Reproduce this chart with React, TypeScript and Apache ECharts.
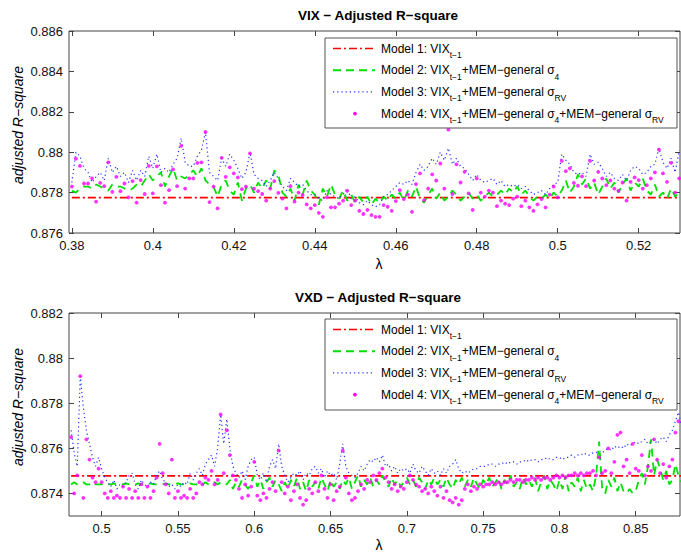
import React, { useEffect, useRef } from "react";
import * as echarts from "echarts";

const FONT = '"Liberation Sans", Arial, Helvetica, sans-serif';

// ---------- VIX panel (lambda 0.380 .. 0.530, step 0.001) ----------
const VIX_LAMBDA_START = 0.38;
const VIX_LAMBDA_STEP = 0.001;
const VIX_M1 = 0.87775;
const VIX_M2 = [
  0.8781, 0.878, 0.8782, 0.8783, 0.8783, 0.8782, 0.8784, 0.8783, 0.8782, 0.8781,
  0.8784, 0.8783, 0.8783, 0.8782, 0.8781, 0.8782, 0.8784, 0.8783, 0.8786, 0.8789,
  0.8786, 0.8788, 0.879, 0.8783, 0.8788, 0.8792, 0.8786, 0.8788, 0.8787, 0.8789,
  0.8791, 0.8788, 0.8792, 0.8786, 0.8784, 0.8783, 0.8778, 0.8784, 0.8786, 0.8781,
  0.8779, 0.8785, 0.8776, 0.8782, 0.8784, 0.878, 0.8785, 0.8782, 0.8786, 0.8782,
  0.8791, 0.8789, 0.878, 0.8778, 0.8782, 0.8776, 0.8784, 0.8779, 0.8786, 0.8781,
  0.8779, 0.8774, 0.8782, 0.8778, 0.8784, 0.8779, 0.8777, 0.8781, 0.8776, 0.8779,
  0.8775, 0.8778, 0.8775, 0.8778, 0.8774, 0.8777, 0.8775, 0.8778, 0.8776, 0.8779,
  0.8777, 0.878, 0.8776, 0.8781, 0.8778, 0.8783, 0.8777, 0.8775, 0.8779, 0.8782,
  0.8777, 0.878, 0.8776, 0.8778, 0.8781, 0.8779, 0.8776, 0.8778, 0.878, 0.8777,
  0.8779, 0.8776, 0.8778, 0.878, 0.8778, 0.8779, 0.8781, 0.8779, 0.8782, 0.878,
  0.8783, 0.8779, 0.8781, 0.8778, 0.8776, 0.8778, 0.8777, 0.8779, 0.8777, 0.878,
  0.8778, 0.8781, 0.8786, 0.878, 0.8783, 0.8789, 0.8784, 0.8787, 0.8782, 0.8785,
  0.8779, 0.8783, 0.8787, 0.8782, 0.8785, 0.878, 0.8784, 0.8787, 0.8781, 0.8785,
  0.8783, 0.8787, 0.8781, 0.8779, 0.8784, 0.8778, 0.878, 0.8777, 0.8782, 0.8778,
  0.878,
];
const VIX_M3 = [
  0.8785, 0.88, 0.8798, 0.8792, 0.879, 0.8785, 0.8788, 0.879, 0.8786, 0.8797,
  0.879, 0.8793, 0.8788, 0.879, 0.8785, 0.8791, 0.8786, 0.8791, 0.8788, 0.8798,
  0.8792, 0.8799, 0.879, 0.8792, 0.879, 0.8794, 0.8797, 0.8807, 0.8795, 0.8793,
  0.8793, 0.8798, 0.8801, 0.881, 0.879, 0.8788, 0.8786, 0.8797, 0.8793, 0.8799,
  0.8796, 0.8792, 0.8787, 0.879, 0.88, 0.8789, 0.8787, 0.8786, 0.8783, 0.8786,
  0.879, 0.8787, 0.8783, 0.8781, 0.8787, 0.8785, 0.8783, 0.8784, 0.8781, 0.8779,
  0.8779, 0.8777, 0.8776, 0.8781, 0.8779, 0.8778, 0.8777, 0.8779, 0.8782, 0.8777,
  0.8778, 0.8775, 0.8774, 0.8776, 0.8774, 0.8773, 0.8774, 0.8778, 0.8779, 0.8781,
  0.8783, 0.8785, 0.8784, 0.8786, 0.8784, 0.879, 0.8794, 0.8791, 0.8793, 0.8797,
  0.8794, 0.88, 0.8796, 0.8802, 0.8794, 0.8797, 0.8793, 0.8792, 0.8789, 0.8786,
  0.8789, 0.8786, 0.8785, 0.8786, 0.8787, 0.8784, 0.8786, 0.8783, 0.8784, 0.8783,
  0.8784, 0.8782, 0.8783, 0.8781, 0.8779, 0.878, 0.8781, 0.8779, 0.8782, 0.8784,
  0.8785, 0.8799, 0.8796, 0.8794, 0.879, 0.8789, 0.879, 0.8788, 0.8799, 0.8794,
  0.8795, 0.8792, 0.8788, 0.879, 0.8787, 0.8786, 0.8789, 0.8786, 0.8791, 0.8793,
  0.8792, 0.8789, 0.879, 0.8793, 0.8794, 0.8802, 0.8795, 0.8792, 0.8797, 0.879,
  0.8801,
];
const VIX_M4 = [
  0.8783, 0.87968, 0.87932, 0.87845, 0.87845, 0.8787, 0.87755, 0.87848, 0.87832, 0.8795,
  0.87804, 0.87878, 0.87807, 0.87845, 0.87776, 0.87857, 0.8775, 0.87862, 0.87793, 0.87932,
  0.87796, 0.8793, 0.87837, 0.8775, 0.87812, 0.87915, 0.87832, 0.88031, 0.8782, 0.8787,
  0.8787, 0.87947, 0.8795, 0.881, 0.87753, 0.8783, 0.87722, 0.87972, 0.87878, 0.87925,
  0.87895, 0.87875, 0.87817, 0.8783, 0.87994, 0.8782, 0.87807, 0.87793, 0.8776, 0.8782,
  0.87857, 0.87799, 0.8777, 0.87722, 0.87832, 0.87755, 0.878, 0.87788, 0.87742, 0.87722,
  0.87738, 0.877, 0.8768, 0.87776, 0.87727, 0.87727, 0.87745, 0.8776, 0.87809, 0.87738,
  0.8776, 0.8771, 0.87694, 0.87714, 0.87689, 0.8768, 0.8768, 0.87738, 0.8773, 0.8771,
  0.87758, 0.87812, 0.87768, 0.8779, 0.87705, 0.87842, 0.87895, 0.87763, 0.8782, 0.8789,
  0.8786, 0.87944, 0.8782, 0.88112, 0.87793, 0.8794, 0.8785, 0.87903, 0.87796, 0.87714,
  0.8787, 0.878, 0.8778, 0.8781, 0.878, 0.87733, 0.8776, 0.87745, 0.87738, 0.8777,
  0.8778, 0.87733, 0.8776, 0.87727, 0.8771, 0.87742, 0.87768, 0.87727, 0.8779, 0.8783,
  0.87776, 0.87957, 0.87906, 0.8792, 0.87848, 0.87834, 0.8788, 0.87832, 0.87957, 0.8786,
  0.87903, 0.8787, 0.87837, 0.8786, 0.8782, 0.87809, 0.8785, 0.8776, 0.87853, 0.87875,
  0.87862, 0.8782, 0.87837, 0.8787, 0.879, 0.88013, 0.87895, 0.87853, 0.87947, 0.878,
  0.8787,
];
const VIX_X_TICKS = [0.38, 0.4, 0.42, 0.44, 0.46, 0.48, 0.5, 0.52];
const VIX_Y_TICKS = [0.876, 0.878, 0.88, 0.882, 0.884, 0.886];

// ---------- VXD panel (lambda 0.480 .. 0.880, step 0.002) ----------
const VXD_LAMBDA_START = 0.48;
const VXD_LAMBDA_STEP = 0.002;
const VXD_M1 = 0.87478;
const VXD_M2 = [
  0.8744, 0.8745, 0.8744, 0.8744, 0.8745, 0.8744, 0.8744, 0.8745, 0.8744, 0.8744,
  0.8744, 0.87445, 0.8744, 0.8744, 0.87445, 0.8744, 0.8744, 0.8744, 0.87445, 0.8744,
  0.8744, 0.8744, 0.87445, 0.8744, 0.8744, 0.8744, 0.87445, 0.8744, 0.8744, 0.8744,
  0.8744, 0.87445, 0.8744, 0.8744, 0.8744, 0.87445, 0.8744, 0.8744, 0.8744, 0.87445,
  0.8744, 0.8744, 0.8745, 0.8744, 0.8745, 0.8744, 0.8745, 0.8745, 0.8744, 0.8745,
  0.8745, 0.8744, 0.8746, 0.8742, 0.8745, 0.8743, 0.8746, 0.8744, 0.8742, 0.8745,
  0.8748, 0.8743, 0.8746, 0.8742, 0.8745, 0.8747, 0.8743, 0.8746, 0.8744, 0.8741,
  0.8745, 0.8742, 0.8746, 0.8743, 0.8747, 0.8742, 0.8745, 0.8741, 0.8746, 0.8743,
  0.8745, 0.8742, 0.8747, 0.8744, 0.8741, 0.8746, 0.8743, 0.8745, 0.8742, 0.8746,
  0.8744, 0.8747, 0.8742, 0.8745, 0.8748, 0.8743, 0.8746, 0.8744, 0.8747, 0.8743,
  0.8746, 0.8744, 0.8748, 0.8745, 0.8743, 0.8747, 0.8744, 0.8746, 0.8743, 0.8745,
  0.8747, 0.8744, 0.8746, 0.8743, 0.8747, 0.8745, 0.8742, 0.8746, 0.8744, 0.8747,
  0.8744, 0.8746, 0.8743, 0.8747, 0.8744, 0.8742, 0.8746, 0.8744, 0.8747, 0.8743,
  0.8746, 0.8743, 0.8747, 0.8744, 0.8742, 0.8746, 0.8744, 0.8747, 0.8743, 0.8745,
  0.8747, 0.8742, 0.8746, 0.8744, 0.8748, 0.8743, 0.8745, 0.8742, 0.8747, 0.8744,
  0.8746, 0.8743, 0.8747, 0.8741, 0.8745, 0.8748, 0.8742, 0.8746, 0.8744, 0.8741,
  0.8746, 0.8742, 0.8748, 0.8741, 0.8745, 0.8743, 0.8747, 0.8741, 0.8746, 0.8742,
  0.8744, 0.8741, 0.8748, 0.8763, 0.8742, 0.874, 0.8746, 0.8743, 0.8747, 0.8741,
  0.8745, 0.8741, 0.874, 0.8742, 0.874, 0.8741, 0.8746, 0.8749, 0.8744, 0.8752,
  0.8764, 0.8748, 0.8755, 0.8751, 0.8746, 0.875, 0.8744, 0.8746, 0.8753, 0.8748,
  0.8745,
];
const VXD_M3 = [
  0.8768, 0.8758, 0.8752, 0.8792, 0.8778, 0.8768, 0.8762, 0.8756, 0.8752, 0.8756,
  0.8751, 0.8747, 0.8745, 0.8743, 0.8746, 0.8742, 0.8744, 0.8743, 0.8745, 0.8748,
  0.8749, 0.8744, 0.8742, 0.8746, 0.8744, 0.8743, 0.8745, 0.8744, 0.8748, 0.875,
  0.8746, 0.8745, 0.8743, 0.8744, 0.8742, 0.8744, 0.8743, 0.8745, 0.8744, 0.8749,
  0.8746, 0.8749, 0.8751, 0.8748, 0.8753, 0.8755, 0.8757, 0.8752, 0.876, 0.8775,
  0.8762, 0.8773, 0.876, 0.8752, 0.8749, 0.8747, 0.875, 0.8746, 0.8752, 0.8755,
  0.8756, 0.8748, 0.8746, 0.8749, 0.8745, 0.8752, 0.8755, 0.8751, 0.8762, 0.8752,
  0.8748, 0.8745, 0.8747, 0.8749, 0.8748, 0.875, 0.8746, 0.8749, 0.8748, 0.8751,
  0.8752, 0.8749, 0.8751, 0.8747, 0.875, 0.8748, 0.8749, 0.8746, 0.8753, 0.8762,
  0.8752, 0.8749, 0.8748, 0.8747, 0.8749, 0.8752, 0.875, 0.8753, 0.8755, 0.8754,
  0.8756, 0.8754, 0.8757, 0.8752, 0.8753, 0.875, 0.8752, 0.8749, 0.8751, 0.875,
  0.8751, 0.8749, 0.8753, 0.875, 0.8749, 0.8752, 0.875, 0.8748, 0.8751, 0.8749,
  0.875, 0.8748, 0.8751, 0.8749, 0.8752, 0.8753, 0.8755, 0.8751, 0.8749, 0.875,
  0.8749, 0.875, 0.8751, 0.8751, 0.8752, 0.8752, 0.8752, 0.8753, 0.8753, 0.8752,
  0.8753, 0.8753, 0.8754, 0.8753, 0.8754, 0.8754, 0.8753, 0.8754, 0.8754, 0.8755,
  0.8754, 0.8755, 0.8755, 0.8754, 0.8755, 0.8755, 0.8756, 0.8755, 0.8755, 0.8756,
  0.8756, 0.8755, 0.8756, 0.8756, 0.8757, 0.8756, 0.8757, 0.8757, 0.8758, 0.8757,
  0.8757, 0.8758, 0.8758, 0.8759, 0.8758, 0.8759, 0.876, 0.8759, 0.8761, 0.876,
  0.8761, 0.876, 0.8762, 0.8761, 0.8762, 0.8763, 0.8762, 0.8763, 0.8764, 0.8762,
  0.8763, 0.8764, 0.8762, 0.8764, 0.8765, 0.8763, 0.8766, 0.8768, 0.8772, 0.8776,
  0.877,
];
const VXD_M4 = [
  0.8765, 0.874, 0.8748, 0.8792, 0.8738, 0.8764, 0.8755, 0.8747, 0.8745, 0.8751,
  0.8745, 0.874, 0.8738, 0.8741, 0.8738, 0.8739, 0.8738, 0.8743, 0.8738, 0.8742,
  0.8738, 0.8741, 0.8738, 0.8744, 0.8738, 0.8743, 0.8738, 0.8741, 0.8747, 0.8762,
  0.8749, 0.8744, 0.874, 0.8755, 0.8738, 0.8741, 0.8738, 0.8739, 0.8738, 0.8742,
  0.8738, 0.874, 0.8745, 0.8744, 0.8747, 0.8746, 0.875, 0.8744, 0.8746, 0.8775,
  0.8749, 0.8768, 0.8757, 0.8748, 0.8746, 0.8742, 0.8738, 0.8744, 0.8739, 0.8743,
  0.8754, 0.8739, 0.8737, 0.874, 0.8738, 0.8742, 0.8745, 0.8741, 0.8759, 0.8745,
  0.874, 0.8743, 0.8737, 0.8741, 0.8744, 0.8738, 0.8735, 0.8737, 0.8742, 0.874,
  0.8745, 0.8741, 0.8748, 0.8742, 0.8738, 0.8744, 0.8737, 0.8741, 0.8743, 0.8759,
  0.8747, 0.874, 0.8737, 0.8738, 0.8741, 0.8744, 0.8742, 0.8746, 0.8745, 0.8748,
  0.8746, 0.8749, 0.8751, 0.8747, 0.8745, 0.8742, 0.8744, 0.8741, 0.8743, 0.8742,
  0.8745, 0.8748, 0.8746, 0.8744, 0.8743, 0.8741, 0.8742, 0.874, 0.8743, 0.8741,
  0.8739, 0.8743, 0.8738, 0.8741, 0.8737, 0.8736, 0.8738, 0.8735, 0.8737, 0.8742,
  0.8744, 0.8741, 0.8743, 0.8742, 0.8744, 0.8743, 0.8744, 0.8744, 0.8745, 0.8744,
  0.8745, 0.8744, 0.8745, 0.8745, 0.8746, 0.8745, 0.8746, 0.8746, 0.8745, 0.8746,
  0.8746, 0.8747, 0.8746, 0.8747, 0.8746, 0.8747, 0.8747, 0.8746, 0.8747, 0.8748,
  0.8747, 0.8748, 0.8747, 0.8748, 0.8748, 0.8749, 0.8748, 0.8749, 0.8748, 0.8749,
  0.8749, 0.875, 0.8748, 0.8756, 0.8749, 0.875, 0.876, 0.8749, 0.8754, 0.8766,
  0.8767, 0.8752, 0.8755, 0.8749, 0.8762, 0.8751, 0.875, 0.8757, 0.8748, 0.8752,
  0.875, 0.8764, 0.8755, 0.8749, 0.8753, 0.8747, 0.8752, 0.8755, 0.8767, 0.8772,
  0.876,
];
const VXD_X_TICKS = [0.5, 0.55, 0.6, 0.65, 0.7, 0.75, 0.8, 0.85];
const VXD_Y_TICKS = [0.874, 0.876, 0.878, 0.88, 0.882];

const TITLES = ["VIX − Adjusted R−square", "VXD − Adjusted R−square"];
const Y_NAME = "adjusted R−square";
const X_NAME = "λ";
const LEGEND_TEXTS = [
  "Model 1: VIX{s|t−1}",
  "Model 2: VIX{s|t−1}+MEM−general σ{s|4}",
  "Model 3: VIX{s|t−1}+MEM−general σ{s|RV}",
  "Model 4: VIX{s|t−1}+MEM−general σ{s|4}+MEM−general σ{s|RV}",
];

const lambdas = (start: number, step: number, n: number) =>
  Array.from({ length: n }, (_, i) => +(start + i * step).toFixed(4));

const fmt = (v: number) => String(+(+v).toFixed(4));

const RED = "#ff0000";
const GREEN = "#00e000";
const BLUE = "#2233ff";
const MAGENTA = "#ff00ff";

function legendGraphics(top: number, bottom: number) {
  const els: any[] = [];
  els.push({
    type: "rect",
    shape: { x: 325, y: top, width: 352, height: bottom - top },
    style: { fill: "#fff", stroke: "#555", lineWidth: 1 },
    z: 100,
  });
  const row0 = top + 10.5;
  const styles = [
    { stroke: RED, lineWidth: 1.5, lineDash: [8, 3, 2, 3] },
    { stroke: GREEN, lineWidth: 2, lineDash: [8, 5] },
    { stroke: BLUE, lineWidth: 1.2, lineDash: [1.2, 3] },
  ];
  LEGEND_TEXTS.forEach((t, k) => {
    const ry = row0 + k * 21.7;
    if (k < 3) {
      els.push({
        type: "line",
        shape: { x1: 333, y1: ry, x2: 375, y2: ry },
        style: { ...styles[k], fill: null },
        z: 101,
      });
    } else {
      els.push({
        type: "circle",
        shape: { cx: 355, cy: ry, r: 1.9 },
        style: { fill: MAGENTA },
        z: 101,
      });
    }
    els.push({
      type: "text",
      x: 381,
      y: ry,
      z: 101,
      style: {
        text: t,
        fontSize: 12,
        fontFamily: FONT,
        fill: "#000",
        lineHeight: 22,
        verticalAlign: "middle",
        align: "left",
        rich: {
          s: {
            fontSize: 8.5,
            fontFamily: FONT,
            fill: "#000",
            lineHeight: 10,
            verticalAlign: "bottom",
          },
        },
      },
    });
  });
  return els;
}

function xAxes(gridIndex: number, min: number, max: number, ticks: number[]) {
  const common = {
    type: "value",
    gridIndex,
    min,
    max,
    splitLine: { show: false },
    axisLine: { show: false },
    axisTick: {
      show: true,
      inside: true,
      length: 5,
      customValues: ticks,
      lineStyle: { color: "#444" },
    },
  };
  return [
    {
      ...common,
      position: "bottom",
      axisLabel: {
        show: true,
        customValues: ticks,
        formatter: fmt,
        fontSize: 13,
        fontFamily: FONT,
        color: "#111",
        margin: 6,
      },
    },
    { ...common, position: "top", axisLabel: { show: false } },
  ];
}

function yAxes(gridIndex: number, min: number, max: number, ticks: number[]) {
  const common = {
    type: "value",
    gridIndex,
    min,
    max,
    splitLine: { show: false },
    axisLine: { show: false },
    axisTick: {
      show: true,
      inside: true,
      length: 5,
      customValues: ticks,
      lineStyle: { color: "#444" },
    },
  };
  return [
    {
      ...common,
      position: "left",
      axisLabel: {
        show: true,
        customValues: ticks,
        formatter: fmt,
        fontSize: 13,
        fontFamily: FONT,
        color: "#111",
        margin: 6,
      },
    },
    { ...common, position: "right", axisLabel: { show: false } },
  ];
}

function panelSeries(
  xi: number,
  yi: number,
  lam: number[],
  m1: number,
  m2: number[],
  m3: number[],
  m4: number[]
) {
  const pair = (arr: number[]) => lam.map((x, i) => [x, arr[i]]);
  return [
    {
      type: "line",
      name: "Model 1",
      xAxisIndex: xi,
      yAxisIndex: yi,
      data: [
        [lam[0], m1],
        [lam[lam.length - 1], m1],
      ],
      symbol: "none",
      silent: true,
      lineStyle: { color: RED, width: 1.6, type: [8, 3, 2, 3] },
      z: 2,
    },
    {
      type: "line",
      name: "Model 2",
      xAxisIndex: xi,
      yAxisIndex: yi,
      data: pair(m2),
      symbol: "none",
      silent: true,
      lineStyle: { color: GREEN, width: 1.8, type: [8, 6] },
      z: 3,
    },
    {
      type: "line",
      name: "Model 3",
      xAxisIndex: xi,
      yAxisIndex: yi,
      data: pair(m3),
      symbol: "none",
      silent: true,
      lineStyle: { color: BLUE, width: 1.2, type: [1.2, 3] },
      z: 4,
    },
    {
      type: "scatter",
      name: "Model 4",
      xAxisIndex: xi,
      yAxisIndex: yi,
      data: pair(m4),
      symbol: "circle",
      symbolSize: 3.8,
      silent: true,
      itemStyle: { color: MAGENTA },
      z: 5,
    },
  ];
}

export default function App() {
  const ref = useRef<HTMLDivElement>(null);

  useEffect(() => {
    if (!ref.current) return;
    const chart = echarts.init(ref.current, undefined, { renderer: "svg" });

    const lamTop = lambdas(VIX_LAMBDA_START, VIX_LAMBDA_STEP, VIX_M2.length);
    const lamBot = lambdas(VXD_LAMBDA_START, VXD_LAMBDA_STEP, VXD_M2.length);

    const textEl = (
      text: string,
      x: number,
      y: number,
      extra: any = {},
      rotation = 0
    ) => ({
      type: "text",
      x,
      y,
      rotation,
      style: {
        text,
        fontFamily: FONT,
        fontSize: 13,
        fill: "#000",
        align: "center",
        verticalAlign: "middle",
        ...extra,
      },
    });

    chart.setOption({
      animation: false,
      backgroundColor: "#fff",
      grid: [
        {
          left: 69,
          top: 31,
          width: 611,
          height: 202,
          show: true,
          borderColor: "#444",
          borderWidth: 1,
          backgroundColor: "transparent",
        },
        {
          left: 69,
          top: 313,
          width: 611,
          height: 203,
          show: true,
          borderColor: "#444",
          borderWidth: 1,
          backgroundColor: "transparent",
        },
      ],
      xAxis: [
        ...xAxes(0, 0.3793, 0.5302, VIX_X_TICKS),
        ...xAxes(1, 0.4786, 0.879, VXD_X_TICKS),
      ],
      yAxis: [
        ...yAxes(0, 0.876, 0.886, VIX_Y_TICKS),
        ...yAxes(1, 0.873, 0.882, VXD_Y_TICKS),
      ],
      series: [
        ...panelSeries(0, 0, lamTop, VIX_M1, VIX_M2, VIX_M3, VIX_M4),
        ...panelSeries(2, 2, lamBot, VXD_M1, VXD_M2, VXD_M3, VXD_M4),
      ],
      graphic: [
        textEl(TITLES[0], 378, 15, { fontWeight: "bold", fontSize: 13.5 }),
        textEl(TITLES[1], 378, 297, { fontWeight: "bold", fontSize: 13.5 }),
        textEl(Y_NAME, 18, 125, { fontStyle: "italic", fontSize: 14 }, Math.PI / 2),
        textEl(Y_NAME, 18, 407, { fontStyle: "italic", fontSize: 14 }, Math.PI / 2),
        textEl(X_NAME, 379, 264, { fontSize: 14 }),
        textEl(X_NAME, 379, 545, { fontSize: 14 }),
        ...legendGraphics(38, 128),
        ...legendGraphics(319, 410),
      ],
    });

    return () => chart.dispose();
  }, []);

  return (
    <div
      ref={ref}
      style={{ position: "absolute", left: 0, top: 0, width: 681, height: 554 }}
    />
  );
}
